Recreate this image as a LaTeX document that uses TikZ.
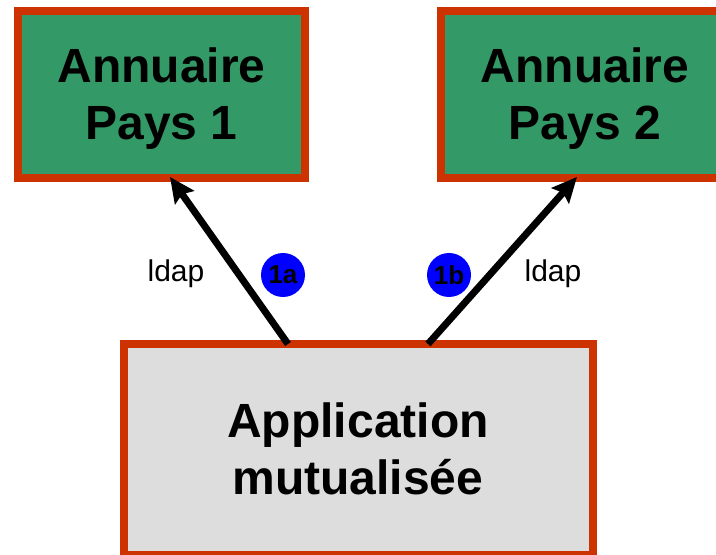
\documentclass[tikz,border=0pt]{standalone}
\usepackage{fontspec}
\setmainfont{Liberation Sans}
\usetikzlibrary{arrows.meta}
\definecolor{boxgreen}{RGB}{51,153,102}
\definecolor{boxred}{RGB}{204,51,0}
\definecolor{appgray}{RGB}{221,221,221}
\definecolor{stepblue}{RGB}{0,0,255}
\begin{document}
\begin{tikzpicture}[x=1pt,y=1pt,
  dirbox/.style={draw=boxred, line width=8pt, fill=boxgreen, rectangle, inner sep=0pt, minimum width=287pt, minimum height=167pt},
  appbox/.style={draw=boxred, line width=8pt, fill=appgray, rectangle, inner sep=0pt, minimum width=469pt, minimum height=211pt},
  title/.style={font=\fontsize{48}{57}\selectfont\bfseries, align=center, anchor=base, inner sep=0pt},
  proto/.style={font=\fontsize{30}{34}\selectfont, anchor=base, inner sep=0pt},
  stepdot/.style={circle, fill=stepblue, minimum size=44pt, inner sep=0pt, font=\fontsize{26}{28}\selectfont\bfseries},
  flow/.style={line width=7pt, -{Stealth[length=25pt, width=23pt, inset=4pt]}}]
\useasboundingbox (0,0) rectangle (716,555);
\clip (0,0) rectangle (716,555);
\node[dirbox] (p1) at (161.5,460.5) {};
\node[dirbox] (p2) at (584.5,460.5) {};
\node[appbox] (app) at (358.5,105.5) {};
\node[title] (t1) at (161.5,415) {Annuaire\\Pays 1};
\node[title] (t2) at (585,415) {Annuaire\\Pays 2};
\node[title] (ta) at (358,60) {Application\\mutualisée};
\coordinate (a1s) at (288,211);
\coordinate (a1e) at (170,378);
\coordinate (a2s) at (428,211);
\coordinate (a2e) at (577,378);
\draw[flow] (a1s) -- (a1e);
\draw[flow] (a2s) -- (a2e);
\node[stepdot] (s1) at (283,280) {1a};
\node[stepdot] (s2) at (449,280) {1b};
\node[proto] (l1) at (176,273) {ldap};
\node[proto] (l2) at (553,273) {ldap};
\end{tikzpicture}
\end{document}
